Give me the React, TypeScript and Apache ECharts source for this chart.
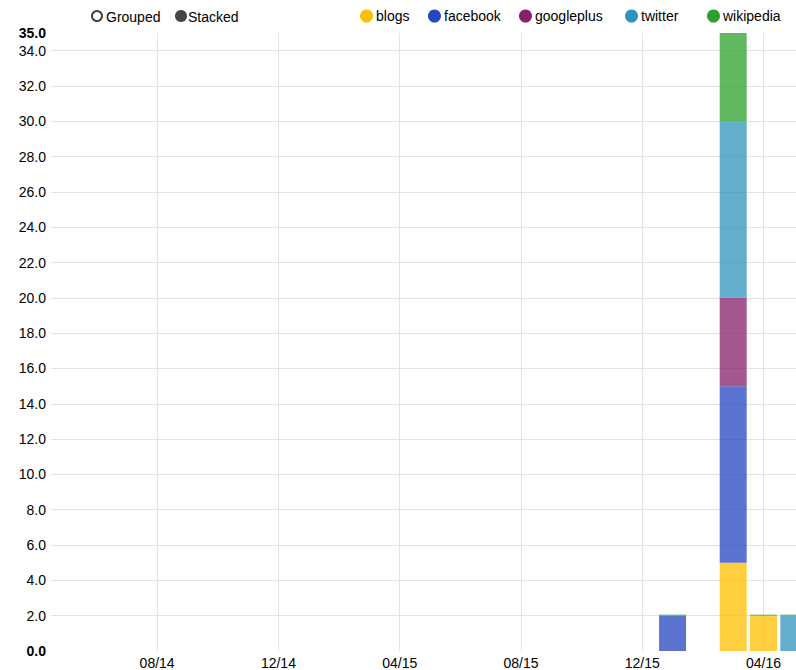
import React, { useEffect, useRef } from "react";
import * as echarts from "echarts";

const months = [
  "05/14", "06/14", "07/14", "08/14", "09/14", "10/14", "11/14", "12/14",
  "01/15", "02/15", "03/15", "04/15", "05/15", "06/15", "07/15", "08/15",
  "09/15", "10/15", "11/15", "12/15", "01/16", "02/16", "03/16", "04/16", "05/16",
];

const seriesNames = ["blogs", "facebook", "googleplus", "twitter", "wikipedia"];
const seriesColors = ["#ffbf00", "#2446bf", "#881f6a", "#2f93ba", "#2ca02c"];

const blogs = [0,0,0,0,0,0,0,0,0,0,0,0,0,0,0,0,0,0,0,0,0,0,5,2,0];
const facebook = [0,0,0,0,0,0,0,0,0,0,0,0,0,0,0,0,0,0,0,0,2,0,10,0,0];
const googleplus = [0,0,0,0,0,0,0,0,0,0,0,0,0,0,0,0,0,0,0,0,0,0,5,0,0];
const twitter = [0,0,0,0,0,0,0,0,0,0,0,0,0,0,0,0,0,0,0,0,0,0,10,0,2];
const wikipedia = [0,0,0,0,0,0,0,0,0,0,0,0,0,0,0,0,0,0,0,0,0.06,0,5,0.06,0.06];

const seriesValues = [blogs, facebook, googleplus, twitter, wikipedia];

const yTicksMax = 35;
const yInterval = 2;

const legendLefts = [360, 428, 519, 625, 707];

const FONT = "'Liberation Sans', Arial, sans-serif";
const FS = 14;

export default function App() {
  const ref = useRef<HTMLDivElement>(null);

  useEffect(() => {
    if (!ref.current) return;
    const chart = echarts.init(ref.current, null, { renderer: "svg" });
    const labelIdx = (i: number) => i % 4 === 3;
    chart.setOption({
      animation: false,
      textStyle: { fontFamily: FONT },
      grid: { left: 51, right: 0, top: 33, bottom: 19, containLabel: false },
      legend: seriesNames.map((n, i) => ({
        data: [n],
        left: legendLefts[i],
        top: 9,
        icon: "circle",
        itemWidth: 13,
        itemHeight: 13,
        itemGap: 5,
        padding: 0,
        selectedMode: false,
        itemStyle: { opacity: 1 },
        textStyle: { fontFamily: FONT, fontSize: FS, color: "#000", padding: [0, 0, 0, -2] },
      })),
      xAxis: {
        type: "category",
        data: months,
        axisLine: { show: false },
        axisTick: { show: false, alignWithLabel: true },
        axisLabel: {
          interval: (i: number) => labelIdx(i),
          color: "#000",
          fontSize: FS,
          fontFamily: FONT,
          margin: 5,
        },
        splitLine: {
          show: true,
          interval: (i: number) => labelIdx(i),
          alignWithLabel: true,
          lineStyle: { color: "#e3e3e3", width: 1 },
        },
      },
      yAxis: {
        type: "value",
        min: 0,
        max: yTicksMax,
        interval: yInterval,
        axisLine: { show: false },
        axisTick: { show: false },
        axisLabel: {
          margin: 5,
          color: "#000",
          fontSize: FS,
          fontFamily: FONT,
          formatter: (v: number) =>
            v === 0 || v === yTicksMax ? `{b|${v.toFixed(1)}}` : v.toFixed(1),
          rich: { b: { fontWeight: "bold", fontSize: FS, fontFamily: FONT, color: "#000" } },
        },
        splitLine: {
          show: true,
          showMinLine: false,
          showMaxLine: false,
          lineStyle: { color: "#e3e3e3", width: 1 },
        },
      },
      series: seriesNames.map((n, i) => ({
        name: n,
        type: "bar",
        stack: "total",
        barWidth: 27,
        data: seriesValues[i],
        itemStyle: { color: seriesColors[i], opacity: 0.75 },
        emphasis: { disabled: true },
      })),
      graphic: [
        { type: "circle", shape: { cx: 97, cy: 16, r: 5 }, style: { fill: "#fff", stroke: "#444", lineWidth: 2 } },
        { type: "text", x: 106, y: 16.5, style: { text: "Grouped", fill: "#000", font: `${FS}px ${FONT}`, textVerticalAlign: "middle" } },
        { type: "circle", shape: { cx: 181, cy: 16, r: 6 }, style: { fill: "#444" } },
        { type: "text", x: 188, y: 16.5, style: { text: "Stacked", fill: "#000", font: `${FS}px ${FONT}`, textVerticalAlign: "middle" } },
      ],
    });
    return () => chart.dispose();
  }, []);

  return (
    <div style={{ position: "fixed", left: 0, top: 0, width: 796, height: 670, overflow: "hidden", background: "#fff" }}>
      <div ref={ref} style={{ width: 809, height: 670 }} />
    </div>
  );
}
